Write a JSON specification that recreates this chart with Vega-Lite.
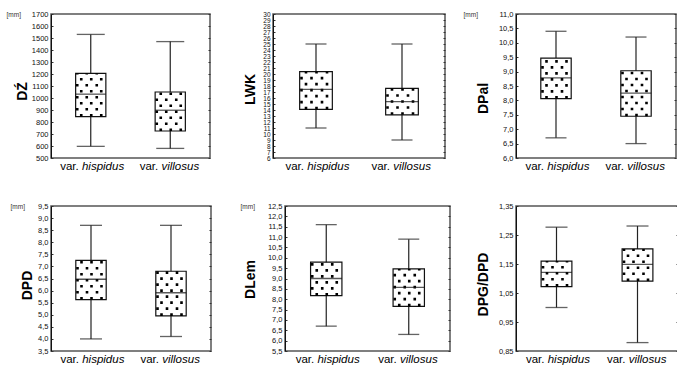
{
"$schema":"https://vega.github.io/schema/vega-lite/v6.json",
"padding":{"left":5,"top":9,"right":0,"bottom":0},
"background":"white",
"config":{"font":"Liberation Sans","view":{"stroke":"#555","strokeWidth":1.5},"axis":{"labelFont":"Liberation Sans","titleFont":"Liberation Sans"}},
"datasets":{
"d1":[{"g":"hispidus","min":597,"q1":845,"median":1032,"q3":1205,"max":1530},{"g":"villosus","min":580,"q1":725,"median":898,"q3":1050,"max":1470}],
"d2":[{"g":"hispidus","min":11,"q1":14.1,"median":17.45,"q3":20.4,"max":25},{"g":"villosus","min":9,"q1":13.2,"median":15.4,"q3":17.6,"max":25}],
"d3":[{"g":"hispidus","min":6.7,"q1":8.06,"median":8.78,"q3":9.47,"max":10.4},{"g":"villosus","min":6.5,"q1":7.45,"median":8.25,"q3":9.03,"max":10.2}],
"d4":[{"g":"hispidus","min":4.0,"q1":5.63,"median":6.47,"q3":7.25,"max":8.7},{"g":"villosus","min":4.1,"q1":4.95,"median":5.91,"q3":6.8,"max":8.7}],
"d5":[{"g":"hispidus","min":6.7,"q1":8.17,"median":9.0,"q3":9.79,"max":11.6},{"g":"villosus","min":6.3,"q1":7.65,"median":8.57,"q3":9.46,"max":10.9}],
"d6":[{"g":"hispidus","min":1.0,"q1":1.072,"median":1.121,"q3":1.16,"max":1.277},{"g":"villosus","min":0.879,"q1":1.091,"median":1.149,"q3":1.202,"max":1.281}]
},
"bounds":"full",
"spacing":28,
"vconcat":[
{"bounds":"flush","spacing":63,"hconcat":[
{"width":159,"height":144,"data":{"name":"d1"},
 "encoding":{"x":{"field":"g","type":"nominal","sort":null,"scale":{"type":"band","paddingInner":0.62,"paddingOuter":0.31},"axis":null}},
 "layer":[
  {"mark":{"type":"rule","color":"#222","strokeWidth":1.2},
   "encoding":{"x":{"field":"g","type":"nominal","sort":null,"scale":{"type":"band","paddingInner":0.62,"paddingOuter":0.31},"axis":{"orient":"bottom","labelExpr":"'var.'","labelAlign":"right","labelOffset":-12,"labelFontSize":11.5,"labelColor":"black","labelPadding":2.5,"labelBaseline":"top","labelAngle":0,"ticks":false,"domain":false,"grid":false,"title":null}},
    "y":{"field":"min","type":"quantitative","scale":{"domain":[500,1700],"nice":false,"zero":false},"axis":{"orient":"left","values":[500,600,700,800,900,1000,1100,1200,1300,1400,1500,1600,1700],"format":"d","labelFontSize":7.5,"labelColor":"#111","labelPadding":5,"tickSize":-2,"tickColor":"#333","domainColor":"#111","domainWidth":1,"grid":false,"labelOverlap":false,"labelFlush":false,"labelBound":false,"title":"DŹ","titleFontSize":14,"titleFontWeight":"bold","titleColor":"black","titleAngle":270,"titleAlign":"center","titleBaseline":"middle","titleX":-29,"titleY":77}},
    "y2":{"field":"max"}}},
  {"mark":{"type":"tick","color":"#222","size":28,"thickness":1.3},"encoding":{"y":{"field":"max","type":"quantitative","scale":{"domain":[500,1700],"nice":false,"zero":false},"axis":null}}},
  {"mark":{"type":"tick","color":"#222","size":28,"thickness":1.3},"encoding":{"y":{"field":"min","type":"quantitative","scale":{"domain":[500,1700],"nice":false,"zero":false},"axis":null}}},
  {"mark":{"type":"bar","fill":"white","stroke":"#111","strokeWidth":1.2},
   "encoding":{"x":{"field":"g","type":"nominal","sort":null,"scale":{"type":"band","paddingInner":0.62,"paddingOuter":0.31},"axis":{"orient":"bottom","labelAlign":"left","labelOffset":-8.8,"labelFontStyle":"italic","labelFontSize":11.5,"labelColor":"black","labelPadding":2.5,"labelBaseline":"top","labelAngle":0,"ticks":false,"domain":false,"grid":false,"title":null}},
    "y":{"field":"q1","type":"quantitative","scale":{"domain":[500,1700],"nice":false,"zero":false},"axis":{"orient":"left","labels":false,"ticks":false,"domain":false,"grid":false,"title":"[mm]","titleFontSize":6.5,"titleFontWeight":"normal","titleColor":"#333","titleAngle":0,"titleAlign":"left","titleBaseline":"middle","titleX":-45,"titleY":0}},
    "y2":{"field":"q3"}}},
  {"mark":{"type":"rule","color":"black","strokeWidth":2.6,"strokeDash":[2.6,9.4],"xOffset":-9.5},"encoding":{"y":{"field":"q1","type":"quantitative","scale":{"domain":[500,1700],"nice":false,"zero":false},"axis":null},"y2":{"field":"q3"}}},
  {"mark":{"type":"rule","color":"black","strokeWidth":2.6,"strokeDash":[2.6,9.4],"xOffset":0.5},"encoding":{"y":{"field":"q1","type":"quantitative","scale":{"domain":[500,1700],"nice":false,"zero":false},"axis":null},"y2":{"field":"q3"}}},
  {"mark":{"type":"rule","color":"black","strokeWidth":2.6,"strokeDash":[2.6,9.4],"xOffset":10.5},"encoding":{"y":{"field":"q1","type":"quantitative","scale":{"domain":[500,1700],"nice":false,"zero":false},"axis":null},"y2":{"field":"q3"}}},
  {"mark":{"type":"rule","color":"black","strokeWidth":2.6,"strokeDash":[2.6,9.4],"strokeDashOffset":6,"xOffset":-13.5},"encoding":{"y":{"field":"q1","type":"quantitative","scale":{"domain":[500,1700],"nice":false,"zero":false},"axis":null},"y2":{"field":"q3"}}},
  {"mark":{"type":"rule","color":"black","strokeWidth":2.6,"strokeDash":[2.6,9.4],"strokeDashOffset":6,"xOffset":-4},"encoding":{"y":{"field":"q1","type":"quantitative","scale":{"domain":[500,1700],"nice":false,"zero":false},"axis":null},"y2":{"field":"q3"}}},
  {"mark":{"type":"rule","color":"black","strokeWidth":2.6,"strokeDash":[2.6,9.4],"strokeDashOffset":6,"xOffset":6},"encoding":{"y":{"field":"q1","type":"quantitative","scale":{"domain":[500,1700],"nice":false,"zero":false},"axis":null},"y2":{"field":"q3"}}},
  {"mark":{"type":"tick","color":"#111","size":30,"thickness":1.3},"encoding":{"y":{"field":"median","type":"quantitative","scale":{"domain":[500,1700],"nice":false,"zero":false},"axis":{"orient":"right","values":[500,600,700,800,900,1000,1100,1200,1300,1400,1500,1600,1700],"labels":false,"domain":false,"ticks":true,"tickSize":-2,"tickColor":"#333","grid":false,"title":null}}}}
 ],
 "resolve":{"axis":{"x":"independent","y":"independent"}}},
{"bounds":"flush","spacing":71,"hconcat":[
{"width":172,"height":144,"data":{"name":"d2"},
 "encoding":{"x":{"field":"g","type":"nominal","sort":null,"scale":{"type":"band","paddingInner":0.62,"paddingOuter":0.31},"axis":null}},
 "layer":[
  {"mark":{"type":"rule","color":"#222","strokeWidth":1.2},
   "encoding":{"x":{"field":"g","type":"nominal","sort":null,"scale":{"type":"band","paddingInner":0.62,"paddingOuter":0.31},"axis":{"orient":"bottom","labelExpr":"'var.'","labelAlign":"right","labelOffset":-12,"labelFontSize":11.5,"labelColor":"black","labelPadding":2.5,"labelBaseline":"top","labelAngle":0,"ticks":false,"domain":false,"grid":false,"title":null}},
    "y":{"field":"min","type":"quantitative","scale":{"domain":[6,30],"nice":false,"zero":false},"axis":{"orient":"left","values":[6,7,8,9,10,11,12,13,14,15,16,17,18,19,20,21,22,23,24,25,26,27,28,29,30],"format":"d","labelFontSize":6.5,"labelColor":"#111","labelPadding":5,"tickSize":-2,"tickColor":"#333","domainColor":"#111","domainWidth":1,"grid":false,"labelOverlap":false,"labelFlush":false,"labelBound":false,"title":"LWK","titleFontSize":14,"titleFontWeight":"bold","titleColor":"black","titleAngle":270,"titleAlign":"center","titleBaseline":"middle","titleX":-23,"titleY":75}},
    "y2":{"field":"max"}}},
  {"mark":{"type":"tick","color":"#222","size":21,"thickness":1.3},"encoding":{"y":{"field":"max","type":"quantitative","scale":{"domain":[6,30],"nice":false,"zero":false},"axis":null}}},
  {"mark":{"type":"tick","color":"#222","size":21,"thickness":1.3},"encoding":{"y":{"field":"min","type":"quantitative","scale":{"domain":[6,30],"nice":false,"zero":false},"axis":null}}},
  {"mark":{"type":"bar","fill":"white","stroke":"#111","strokeWidth":1.2},
   "encoding":{"x":{"field":"g","type":"nominal","sort":null,"scale":{"type":"band","paddingInner":0.62,"paddingOuter":0.31},"axis":{"orient":"bottom","labelAlign":"left","labelOffset":-8.8,"labelFontStyle":"italic","labelFontSize":11.5,"labelColor":"black","labelPadding":2.5,"labelBaseline":"top","labelAngle":0,"ticks":false,"domain":false,"grid":false,"title":null}},
    "y":{"field":"q1","type":"quantitative","scale":{"domain":[6,30],"nice":false,"zero":false},"axis":null},
    "y2":{"field":"q3"}}},
  {"mark":{"type":"rule","color":"black","strokeWidth":2.6,"strokeDash":[2.6,9.4],"xOffset":-10},"encoding":{"y":{"field":"q1","type":"quantitative","scale":{"domain":[6,30],"nice":false,"zero":false},"axis":null},"y2":{"field":"q3"}}},
  {"mark":{"type":"rule","color":"black","strokeWidth":2.6,"strokeDash":[2.6,9.4],"xOffset":0.5},"encoding":{"y":{"field":"q1","type":"quantitative","scale":{"domain":[6,30],"nice":false,"zero":false},"axis":null},"y2":{"field":"q3"}}},
  {"mark":{"type":"rule","color":"black","strokeWidth":2.6,"strokeDash":[2.6,9.4],"xOffset":11},"encoding":{"y":{"field":"q1","type":"quantitative","scale":{"domain":[6,30],"nice":false,"zero":false},"axis":null},"y2":{"field":"q3"}}},
  {"mark":{"type":"rule","color":"black","strokeWidth":2.6,"strokeDash":[2.6,9.4],"strokeDashOffset":6,"xOffset":-14.5},"encoding":{"y":{"field":"q1","type":"quantitative","scale":{"domain":[6,30],"nice":false,"zero":false},"axis":null},"y2":{"field":"q3"}}},
  {"mark":{"type":"rule","color":"black","strokeWidth":2.6,"strokeDash":[2.6,9.4],"strokeDashOffset":6,"xOffset":-4.5},"encoding":{"y":{"field":"q1","type":"quantitative","scale":{"domain":[6,30],"nice":false,"zero":false},"axis":null},"y2":{"field":"q3"}}},
  {"mark":{"type":"rule","color":"black","strokeWidth":2.6,"strokeDash":[2.6,9.4],"strokeDashOffset":6,"xOffset":6},"encoding":{"y":{"field":"q1","type":"quantitative","scale":{"domain":[6,30],"nice":false,"zero":false},"axis":null},"y2":{"field":"q3"}}},
  {"mark":{"type":"tick","color":"#111","size":32.7,"thickness":1.3},"encoding":{"y":{"field":"median","type":"quantitative","scale":{"domain":[6,30],"nice":false,"zero":false},"axis":{"orient":"right","values":[6,7,8,9,10,11,12,13,14,15,16,17,18,19,20,21,22,23,24,25,26,27,28,29,30],"labels":false,"domain":false,"ticks":true,"tickSize":-2,"tickColor":"#333","grid":false,"title":null}}}}
 ],
 "resolve":{"axis":{"x":"independent","y":"independent"}}},
{"width":160,"height":144,"data":{"name":"d3"},
 "encoding":{"x":{"field":"g","type":"nominal","sort":null,"scale":{"type":"band","paddingInner":0.62,"paddingOuter":0.31},"axis":null}},
 "layer":[
  {"mark":{"type":"rule","color":"#222","strokeWidth":1.2},
   "encoding":{"x":{"field":"g","type":"nominal","sort":null,"scale":{"type":"band","paddingInner":0.62,"paddingOuter":0.31},"axis":{"orient":"bottom","labelExpr":"'var.'","labelAlign":"right","labelOffset":-12,"labelFontSize":11.5,"labelColor":"black","labelPadding":2.5,"labelBaseline":"top","labelAngle":0,"ticks":false,"domain":false,"grid":false,"title":null}},
    "y":{"field":"min","type":"quantitative","scale":{"domain":[6,11],"nice":false,"zero":false},"axis":{"orient":"left","values":[6,6.5,7,7.5,8,8.5,9,9.5,10,10.5,11],"labelExpr":"replace(format(datum.value,'.1f'),'.',',')","labelFontSize":7.5,"labelColor":"#111","labelPadding":5,"tickSize":-2,"tickColor":"#333","domainColor":"#111","domainWidth":1,"grid":false,"labelOverlap":false,"labelFlush":false,"labelBound":false,"title":"DPal","titleFontSize":14,"titleFontWeight":"bold","titleColor":"black","titleAngle":270,"titleAlign":"center","titleBaseline":"middle","titleX":-33,"titleY":84}},
    "y2":{"field":"max"}}},
  {"mark":{"type":"tick","color":"#222","size":21,"thickness":1.3},"encoding":{"y":{"field":"max","type":"quantitative","scale":{"domain":[6,11],"nice":false,"zero":false},"axis":null}}},
  {"mark":{"type":"tick","color":"#222","size":21,"thickness":1.3},"encoding":{"y":{"field":"min","type":"quantitative","scale":{"domain":[6,11],"nice":false,"zero":false},"axis":null}}},
  {"mark":{"type":"bar","fill":"white","stroke":"#111","strokeWidth":1.2},
   "encoding":{"x":{"field":"g","type":"nominal","sort":null,"scale":{"type":"band","paddingInner":0.62,"paddingOuter":0.31},"axis":{"orient":"bottom","labelAlign":"left","labelOffset":-8.8,"labelFontStyle":"italic","labelFontSize":11.5,"labelColor":"black","labelPadding":2.5,"labelBaseline":"top","labelAngle":0,"ticks":false,"domain":false,"grid":false,"title":null}},
    "y":{"field":"q1","type":"quantitative","scale":{"domain":[6,11],"nice":false,"zero":false},"axis":{"orient":"left","labels":false,"ticks":false,"domain":false,"grid":false,"title":"[mm]","titleFontSize":6.5,"titleFontWeight":"normal","titleColor":"#333","titleAngle":0,"titleAlign":"left","titleBaseline":"middle","titleX":-53,"titleY":0}},
    "y2":{"field":"q3"}}},
  {"mark":{"type":"rule","color":"black","strokeWidth":2.6,"strokeDash":[2.6,9.4],"xOffset":-9.5},"encoding":{"y":{"field":"q1","type":"quantitative","scale":{"domain":[6,11],"nice":false,"zero":false},"axis":null},"y2":{"field":"q3"}}},
  {"mark":{"type":"rule","color":"black","strokeWidth":2.6,"strokeDash":[2.6,9.4],"xOffset":0.5},"encoding":{"y":{"field":"q1","type":"quantitative","scale":{"domain":[6,11],"nice":false,"zero":false},"axis":null},"y2":{"field":"q3"}}},
  {"mark":{"type":"rule","color":"black","strokeWidth":2.6,"strokeDash":[2.6,9.4],"xOffset":10.5},"encoding":{"y":{"field":"q1","type":"quantitative","scale":{"domain":[6,11],"nice":false,"zero":false},"axis":null},"y2":{"field":"q3"}}},
  {"mark":{"type":"rule","color":"black","strokeWidth":2.6,"strokeDash":[2.6,9.4],"strokeDashOffset":6,"xOffset":-13.5},"encoding":{"y":{"field":"q1","type":"quantitative","scale":{"domain":[6,11],"nice":false,"zero":false},"axis":null},"y2":{"field":"q3"}}},
  {"mark":{"type":"rule","color":"black","strokeWidth":2.6,"strokeDash":[2.6,9.4],"strokeDashOffset":6,"xOffset":-4},"encoding":{"y":{"field":"q1","type":"quantitative","scale":{"domain":[6,11],"nice":false,"zero":false},"axis":null},"y2":{"field":"q3"}}},
  {"mark":{"type":"rule","color":"black","strokeWidth":2.6,"strokeDash":[2.6,9.4],"strokeDashOffset":6,"xOffset":6},"encoding":{"y":{"field":"q1","type":"quantitative","scale":{"domain":[6,11],"nice":false,"zero":false},"axis":null},"y2":{"field":"q3"}}},
  {"mark":{"type":"tick","color":"#111","size":30.4,"thickness":1.3},"encoding":{"y":{"field":"median","type":"quantitative","scale":{"domain":[6,11],"nice":false,"zero":false},"axis":{"orient":"right","values":[6,6.5,7,7.5,8,8.5,9,9.5,10,10.5,11],"labels":false,"domain":false,"ticks":true,"tickSize":-2,"tickColor":"#333","grid":false,"title":null}}}}
 ],
 "resolve":{"axis":{"x":"independent","y":"independent"}}}
]}]},
{"bounds":"flush","spacing":74,"hconcat":[
{"width":160,"height":145,"data":{"name":"d4"},
 "encoding":{"x":{"field":"g","type":"nominal","sort":null,"scale":{"type":"band","paddingInner":0.62,"paddingOuter":0.31},"axis":null}},
 "layer":[
  {"mark":{"type":"rule","color":"#222","strokeWidth":1.2},
   "encoding":{"x":{"field":"g","type":"nominal","sort":null,"scale":{"type":"band","paddingInner":0.62,"paddingOuter":0.31},"axis":{"orient":"bottom","labelExpr":"'var.'","labelAlign":"right","labelOffset":-12,"labelFontSize":11.5,"labelColor":"black","labelPadding":2.5,"labelBaseline":"top","labelAngle":0,"ticks":false,"domain":false,"grid":false,"title":null}},
    "y":{"field":"min","type":"quantitative","scale":{"domain":[3.5,9.5],"nice":false,"zero":false},"axis":{"orient":"left","values":[3.5,4,4.5,5,5.5,6,6.5,7,7.5,8,8.5,9,9.5],"labelExpr":"replace(format(datum.value,'.1f'),'.',',')","labelFontSize":7.5,"labelColor":"#111","labelPadding":5,"tickSize":-2,"tickColor":"#333","domainColor":"#111","domainWidth":1,"grid":false,"labelOverlap":false,"labelFlush":false,"labelBound":false,"title":"DPD","titleFontSize":14,"titleFontWeight":"bold","titleColor":"black","titleAngle":270,"titleAlign":"center","titleBaseline":"middle","titleX":-23.5,"titleY":79}},
    "y2":{"field":"max"}}},
  {"mark":{"type":"tick","color":"#222","size":22,"thickness":1.3},"encoding":{"y":{"field":"max","type":"quantitative","scale":{"domain":[3.5,9.5],"nice":false,"zero":false},"axis":null}}},
  {"mark":{"type":"tick","color":"#222","size":22,"thickness":1.3},"encoding":{"y":{"field":"min","type":"quantitative","scale":{"domain":[3.5,9.5],"nice":false,"zero":false},"axis":null}}},
  {"mark":{"type":"bar","fill":"white","stroke":"#111","strokeWidth":1.2},
   "encoding":{"x":{"field":"g","type":"nominal","sort":null,"scale":{"type":"band","paddingInner":0.62,"paddingOuter":0.31},"axis":{"orient":"bottom","labelAlign":"left","labelOffset":-8.8,"labelFontStyle":"italic","labelFontSize":11.5,"labelColor":"black","labelPadding":2.5,"labelBaseline":"top","labelAngle":0,"ticks":false,"domain":false,"grid":false,"title":null}},
    "y":{"field":"q1","type":"quantitative","scale":{"domain":[3.5,9.5],"nice":false,"zero":false},"axis":{"orient":"left","labels":false,"ticks":false,"domain":false,"grid":false,"title":"[mm]","titleFontSize":6.5,"titleFontWeight":"normal","titleColor":"#333","titleAngle":0,"titleAlign":"left","titleBaseline":"middle","titleX":-41,"titleY":0}},
    "y2":{"field":"q3"}}},
  {"mark":{"type":"rule","color":"black","strokeWidth":2.6,"strokeDash":[2.6,9.4],"xOffset":-9.5},"encoding":{"y":{"field":"q1","type":"quantitative","scale":{"domain":[3.5,9.5],"nice":false,"zero":false},"axis":null},"y2":{"field":"q3"}}},
  {"mark":{"type":"rule","color":"black","strokeWidth":2.6,"strokeDash":[2.6,9.4],"xOffset":0.5},"encoding":{"y":{"field":"q1","type":"quantitative","scale":{"domain":[3.5,9.5],"nice":false,"zero":false},"axis":null},"y2":{"field":"q3"}}},
  {"mark":{"type":"rule","color":"black","strokeWidth":2.6,"strokeDash":[2.6,9.4],"xOffset":10.5},"encoding":{"y":{"field":"q1","type":"quantitative","scale":{"domain":[3.5,9.5],"nice":false,"zero":false},"axis":null},"y2":{"field":"q3"}}},
  {"mark":{"type":"rule","color":"black","strokeWidth":2.6,"strokeDash":[2.6,9.4],"strokeDashOffset":6,"xOffset":-13.5},"encoding":{"y":{"field":"q1","type":"quantitative","scale":{"domain":[3.5,9.5],"nice":false,"zero":false},"axis":null},"y2":{"field":"q3"}}},
  {"mark":{"type":"rule","color":"black","strokeWidth":2.6,"strokeDash":[2.6,9.4],"strokeDashOffset":6,"xOffset":-4},"encoding":{"y":{"field":"q1","type":"quantitative","scale":{"domain":[3.5,9.5],"nice":false,"zero":false},"axis":null},"y2":{"field":"q3"}}},
  {"mark":{"type":"rule","color":"black","strokeWidth":2.6,"strokeDash":[2.6,9.4],"strokeDashOffset":6,"xOffset":6},"encoding":{"y":{"field":"q1","type":"quantitative","scale":{"domain":[3.5,9.5],"nice":false,"zero":false},"axis":null},"y2":{"field":"q3"}}},
  {"mark":{"type":"tick","color":"#111","size":30.4,"thickness":1.3},"encoding":{"y":{"field":"median","type":"quantitative","scale":{"domain":[3.5,9.5],"nice":false,"zero":false},"axis":{"orient":"right","values":[3.5,4,4.5,5,5.5,6,6.5,7,7.5,8,8.5,9,9.5],"labels":false,"domain":false,"ticks":true,"tickSize":-2,"tickColor":"#333","grid":false,"title":null}}}}
 ],
 "resolve":{"axis":{"x":"independent","y":"independent"}}},
{"bounds":"flush","spacing":66,"hconcat":[
{"width":165,"height":145,"data":{"name":"d5"},
 "encoding":{"x":{"field":"g","type":"nominal","sort":null,"scale":{"type":"band","paddingInner":0.62,"paddingOuter":0.31},"axis":null}},
 "layer":[
  {"mark":{"type":"rule","color":"#222","strokeWidth":1.2},
   "encoding":{"x":{"field":"g","type":"nominal","sort":null,"scale":{"type":"band","paddingInner":0.62,"paddingOuter":0.31},"axis":{"orient":"bottom","labelExpr":"'var.'","labelAlign":"right","labelOffset":-12,"labelFontSize":11.5,"labelColor":"black","labelPadding":2.5,"labelBaseline":"top","labelAngle":0,"ticks":false,"domain":false,"grid":false,"title":null}},
    "y":{"field":"min","type":"quantitative","scale":{"domain":[5.5,12.5],"nice":false,"zero":false},"axis":{"orient":"left","values":[5.5,6,6.5,7,7.5,8,8.5,9,9.5,10,10.5,11,11.5,12,12.5],"labelExpr":"replace(format(datum.value,'.1f'),'.',',')","labelFontSize":7.5,"labelColor":"#111","labelPadding":5,"tickSize":-2,"tickColor":"#333","domainColor":"#111","domainWidth":1,"grid":false,"labelOverlap":false,"labelFlush":false,"labelBound":false,"title":"DLem","titleFontSize":14,"titleFontWeight":"bold","titleColor":"black","titleAngle":270,"titleAlign":"center","titleBaseline":"middle","titleX":-35,"titleY":73}},
    "y2":{"field":"max"}}},
  {"mark":{"type":"tick","color":"#222","size":21,"thickness":1.3},"encoding":{"y":{"field":"max","type":"quantitative","scale":{"domain":[5.5,12.5],"nice":false,"zero":false},"axis":null}}},
  {"mark":{"type":"tick","color":"#222","size":21,"thickness":1.3},"encoding":{"y":{"field":"min","type":"quantitative","scale":{"domain":[5.5,12.5],"nice":false,"zero":false},"axis":null}}},
  {"mark":{"type":"bar","fill":"white","stroke":"#111","strokeWidth":1.2},
   "encoding":{"x":{"field":"g","type":"nominal","sort":null,"scale":{"type":"band","paddingInner":0.62,"paddingOuter":0.31},"axis":{"orient":"bottom","labelAlign":"left","labelOffset":-8.8,"labelFontStyle":"italic","labelFontSize":11.5,"labelColor":"black","labelPadding":2.5,"labelBaseline":"top","labelAngle":0,"ticks":false,"domain":false,"grid":false,"title":null}},
    "y":{"field":"q1","type":"quantitative","scale":{"domain":[5.5,12.5],"nice":false,"zero":false},"axis":{"orient":"left","labels":false,"ticks":false,"domain":false,"grid":false,"title":"[mm]","titleFontSize":6.5,"titleFontWeight":"normal","titleColor":"#333","titleAngle":0,"titleAlign":"left","titleBaseline":"middle","titleX":-45,"titleY":0}},
    "y2":{"field":"q3"}}},
  {"mark":{"type":"rule","color":"black","strokeWidth":2.6,"strokeDash":[2.6,9.4],"xOffset":-9.5},"encoding":{"y":{"field":"q1","type":"quantitative","scale":{"domain":[5.5,12.5],"nice":false,"zero":false},"axis":null},"y2":{"field":"q3"}}},
  {"mark":{"type":"rule","color":"black","strokeWidth":2.6,"strokeDash":[2.6,9.4],"xOffset":0.5},"encoding":{"y":{"field":"q1","type":"quantitative","scale":{"domain":[5.5,12.5],"nice":false,"zero":false},"axis":null},"y2":{"field":"q3"}}},
  {"mark":{"type":"rule","color":"black","strokeWidth":2.6,"strokeDash":[2.6,9.4],"xOffset":10.5},"encoding":{"y":{"field":"q1","type":"quantitative","scale":{"domain":[5.5,12.5],"nice":false,"zero":false},"axis":null},"y2":{"field":"q3"}}},
  {"mark":{"type":"rule","color":"black","strokeWidth":2.6,"strokeDash":[2.6,9.4],"strokeDashOffset":6,"xOffset":-14},"encoding":{"y":{"field":"q1","type":"quantitative","scale":{"domain":[5.5,12.5],"nice":false,"zero":false},"axis":null},"y2":{"field":"q3"}}},
  {"mark":{"type":"rule","color":"black","strokeWidth":2.6,"strokeDash":[2.6,9.4],"strokeDashOffset":6,"xOffset":-4},"encoding":{"y":{"field":"q1","type":"quantitative","scale":{"domain":[5.5,12.5],"nice":false,"zero":false},"axis":null},"y2":{"field":"q3"}}},
  {"mark":{"type":"rule","color":"black","strokeWidth":2.6,"strokeDash":[2.6,9.4],"strokeDashOffset":6,"xOffset":6},"encoding":{"y":{"field":"q1","type":"quantitative","scale":{"domain":[5.5,12.5],"nice":false,"zero":false},"axis":null},"y2":{"field":"q3"}}},
  {"mark":{"type":"tick","color":"#111","size":31.4,"thickness":1.3},"encoding":{"y":{"field":"median","type":"quantitative","scale":{"domain":[5.5,12.5],"nice":false,"zero":false},"axis":{"orient":"right","values":[5.5,6,6.5,7,7.5,8,8.5,9,9.5,10,10.5,11,11.5,12,12.5],"labels":false,"domain":false,"ticks":true,"tickSize":-2,"tickColor":"#333","grid":false,"title":null}}}}
 ],
 "resolve":{"axis":{"x":"independent","y":"independent"}}},
{"width":162,"height":145,"data":{"name":"d6"},
 "encoding":{"x":{"field":"g","type":"nominal","sort":null,"scale":{"type":"band","paddingInner":0.62,"paddingOuter":0.31},"axis":null}},
 "layer":[
  {"mark":{"type":"rule","color":"#222","strokeWidth":1.2},
   "encoding":{"x":{"field":"g","type":"nominal","sort":null,"scale":{"type":"band","paddingInner":0.62,"paddingOuter":0.31},"axis":{"orient":"bottom","labelExpr":"'var.'","labelAlign":"right","labelOffset":-12,"labelFontSize":11.5,"labelColor":"black","labelPadding":2.5,"labelBaseline":"top","labelAngle":0,"ticks":false,"domain":false,"grid":false,"title":null}},
    "y":{"field":"min","type":"quantitative","scale":{"domain":[0.85,1.35],"nice":false,"zero":false},"axis":{"orient":"left","values":[0.85,0.95,1.05,1.15,1.25,1.35],"labelExpr":"replace(format(datum.value,'.2f'),'.',',')","labelFontSize":7.5,"labelColor":"#111","labelPadding":5,"tickSize":-2,"tickColor":"#333","domainColor":"#111","domainWidth":1,"grid":false,"labelOverlap":false,"labelFlush":false,"labelBound":false,"title":"DPG/DPD","titleFontSize":14,"titleFontWeight":"bold","titleColor":"black","titleAngle":270,"titleAlign":"center","titleBaseline":"middle","titleX":-33,"titleY":78}},
    "y2":{"field":"max"}}},
  {"mark":{"type":"tick","color":"#222","size":22,"thickness":1.3},"encoding":{"y":{"field":"max","type":"quantitative","scale":{"domain":[0.85,1.35],"nice":false,"zero":false},"axis":null}}},
  {"mark":{"type":"tick","color":"#222","size":22,"thickness":1.3},"encoding":{"y":{"field":"min","type":"quantitative","scale":{"domain":[0.85,1.35],"nice":false,"zero":false},"axis":null}}},
  {"mark":{"type":"bar","fill":"white","stroke":"#111","strokeWidth":1.2},
   "encoding":{"x":{"field":"g","type":"nominal","sort":null,"scale":{"type":"band","paddingInner":0.62,"paddingOuter":0.31},"axis":{"orient":"bottom","labelAlign":"left","labelOffset":-8.8,"labelFontStyle":"italic","labelFontSize":11.5,"labelColor":"black","labelPadding":2.5,"labelBaseline":"top","labelAngle":0,"ticks":false,"domain":false,"grid":false,"title":null}},
    "y":{"field":"q1","type":"quantitative","scale":{"domain":[0.85,1.35],"nice":false,"zero":false},"axis":null},
    "y2":{"field":"q3"}}},
  {"mark":{"type":"rule","color":"black","strokeWidth":2.6,"strokeDash":[2.6,9.4],"xOffset":-9.5},"encoding":{"y":{"field":"q1","type":"quantitative","scale":{"domain":[0.85,1.35],"nice":false,"zero":false},"axis":null},"y2":{"field":"q3"}}},
  {"mark":{"type":"rule","color":"black","strokeWidth":2.6,"strokeDash":[2.6,9.4],"xOffset":0.5},"encoding":{"y":{"field":"q1","type":"quantitative","scale":{"domain":[0.85,1.35],"nice":false,"zero":false},"axis":null},"y2":{"field":"q3"}}},
  {"mark":{"type":"rule","color":"black","strokeWidth":2.6,"strokeDash":[2.6,9.4],"xOffset":10.5},"encoding":{"y":{"field":"q1","type":"quantitative","scale":{"domain":[0.85,1.35],"nice":false,"zero":false},"axis":null},"y2":{"field":"q3"}}},
  {"mark":{"type":"rule","color":"black","strokeWidth":2.6,"strokeDash":[2.6,9.4],"strokeDashOffset":6,"xOffset":-13.5},"encoding":{"y":{"field":"q1","type":"quantitative","scale":{"domain":[0.85,1.35],"nice":false,"zero":false},"axis":null},"y2":{"field":"q3"}}},
  {"mark":{"type":"rule","color":"black","strokeWidth":2.6,"strokeDash":[2.6,9.4],"strokeDashOffset":6,"xOffset":-4},"encoding":{"y":{"field":"q1","type":"quantitative","scale":{"domain":[0.85,1.35],"nice":false,"zero":false},"axis":null},"y2":{"field":"q3"}}},
  {"mark":{"type":"rule","color":"black","strokeWidth":2.6,"strokeDash":[2.6,9.4],"strokeDashOffset":6,"xOffset":6},"encoding":{"y":{"field":"q1","type":"quantitative","scale":{"domain":[0.85,1.35],"nice":false,"zero":false},"axis":null},"y2":{"field":"q3"}}},
  {"mark":{"type":"tick","color":"#111","size":30.8,"thickness":1.3},"encoding":{"y":{"field":"median","type":"quantitative","scale":{"domain":[0.85,1.35],"nice":false,"zero":false},"axis":{"orient":"right","values":[0.85,0.95,1.05,1.15,1.25,1.35],"labels":false,"domain":false,"ticks":true,"tickSize":-2,"tickColor":"#333","grid":false,"title":null}}}}
 ],
 "resolve":{"axis":{"x":"independent","y":"independent"}}}
]}]}
]
}
